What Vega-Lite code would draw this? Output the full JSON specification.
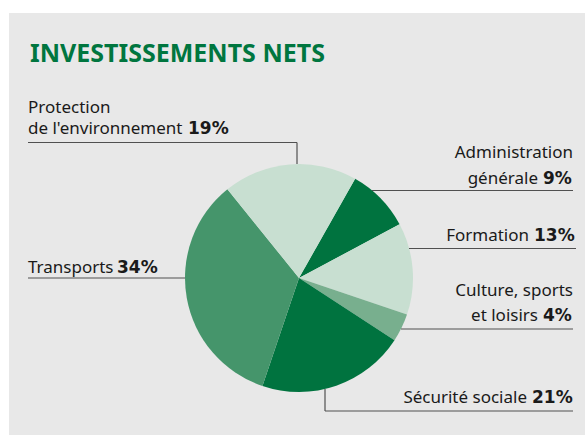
{
  "$schema": "https://vega.github.io/schema/vega-lite/v6.json",
  "width": 576,
  "height": 422,
  "autosize": {"type": "none"},
  "padding": {"left": 9, "top": 13, "right": 0, "bottom": 6},
  "background": "#ffffff",
  "config": {
    "view": {"fill": "#e8e8e8", "stroke": null},
    "axis": {"disable": true},
    "text": {"font": "Noto Sans", "fontSize": 17, "color": "#1a1a1a", "baseline": "alphabetic"},
    "rule": {"color": "#505050", "strokeWidth": 1.2}
  },
  "title": {
    "text": "INVESTISSEMENTS NETS",
    "anchor": "start",
    "frame": "group",
    "orient": "top",
    "offset": -74,
    "dx": 21,
    "baseline": "alphabetic",
    "font": "Noto Sans",
    "fontSize": 25,
    "fontWeight": "bold",
    "color": "#00763f"
  },
  "data": {
    "values": [
      {"category": "Administration générale", "line1": "Administration", "line2": "générale", "share": 0.09},
      {"category": "Formation", "line1": "Formation", "line2": "", "share": 0.13},
      {"category": "Culture, sports et loisirs", "line1": "Culture, sports", "line2": "et loisirs", "share": 0.04},
      {"category": "Sécurité sociale", "line1": "Sécurité sociale", "line2": "", "share": 0.21},
      {"category": "Transports", "line1": "Transports", "line2": "", "share": 0.34},
      {"category": "Protection de l'environnement", "line1": "Protection", "line2": "de l'environnement", "share": 0.19}
    ]
  },
  "layer": [
    {
      "transform": [{"window": [{"op": "row_number", "as": "idx"}]}],
      "mark": {"type": "arc", "outerRadius": 114},
      "encoding": {
        "x": {"datum": 0, "type": "quantitative", "scale": {"domain": [-290, 286], "nice": false, "zero": false}},
        "y": {"datum": 0, "type": "quantitative", "scale": {"domain": [-157, 265], "nice": false, "zero": false}},
        "theta": {"field": "share", "type": "quantitative", "stack": true, "scale": {"range": [0.515, 6.798]}},
        "order": {"field": "idx", "type": "quantitative"},
        "color": {
          "field": "category",
          "type": "nominal",
          "legend": null,
          "scale": {
            "domain": ["Administration générale", "Formation", "Culture, sports et loisirs", "Sécurité sociale", "Transports", "Protection de l'environnement"],
            "range": ["#00733f", "#c8dfd1", "#78af8e", "#00733f", "#45956b", "#c8dfd1"]
          }
        }
      }
    },
    {
      "transform": [
        {"filter": "datum.category === \"Protection de l'environnement\""},
        {"calculate": "datum.line1 + '\\n' + datum.line2", "as": "label"}
      ],
      "mark": {"type": "text", "align": "left", "lineBreak": "\n", "lineHeight": 21},
      "encoding": {"x": {"datum": -271}, "y": {"datum": 165}, "text": {"field": "label"}}
    },
    {
      "transform": [{"filter": "datum.category === \"Protection de l'environnement\""}],
      "mark": {"type": "text", "align": "left", "font": "DejaVu Sans", "fontWeight": "bold"},
      "encoding": {"x": {"datum": -111}, "y": {"datum": 144}, "text": {"field": "share", "format": ".0%"}}
    },
    {
      "transform": [{"filter": "datum.category === \"Protection de l'environnement\""}],
      "mark": "rule",
      "encoding": {"x": {"datum": -271}, "x2": {"datum": -2}, "y": {"datum": 135.5}}
    },
    {
      "transform": [{"filter": "datum.category === \"Protection de l'environnement\""}],
      "mark": "rule",
      "encoding": {"x": {"datum": -2}, "y": {"datum": 135.5}, "y2": {"datum": 114}}
    },
    {
      "transform": [{"filter": "datum.category === 'Transports'"}],
      "mark": {"type": "text", "align": "left"},
      "encoding": {"x": {"datum": -271}, "y": {"datum": 5}, "text": {"field": "line1"}}
    },
    {
      "transform": [{"filter": "datum.category === 'Transports'"}],
      "mark": {"type": "text", "align": "left", "font": "DejaVu Sans", "fontWeight": "bold"},
      "encoding": {"x": {"datum": -182}, "y": {"datum": 5}, "text": {"field": "share", "format": ".0%"}}
    },
    {
      "transform": [{"filter": "datum.category === 'Transports'"}],
      "mark": "rule",
      "encoding": {"x": {"datum": -271}, "x2": {"datum": -114}, "y": {"datum": 0}}
    },
    {
      "transform": [{"filter": "datum.category === 'Administration générale'"}],
      "mark": {"type": "text", "align": "right"},
      "encoding": {"x": {"datum": 274}, "y": {"datum": 120.5}, "text": {"field": "line1"}}
    },
    {
      "transform": [{"filter": "datum.category === 'Administration générale'"}],
      "mark": {"type": "text", "align": "right"},
      "encoding": {"x": {"datum": 239}, "y": {"datum": 94.5}, "text": {"field": "line2"}}
    },
    {
      "transform": [{"filter": "datum.category === 'Administration générale'"}],
      "mark": {"type": "text", "align": "left", "font": "DejaVu Sans", "fontWeight": "bold"},
      "encoding": {"x": {"datum": 244}, "y": {"datum": 94.5}, "text": {"field": "share", "format": ".0%"}}
    },
    {
      "transform": [{"filter": "datum.category === 'Administration générale'"}],
      "mark": "rule",
      "encoding": {"x": {"datum": 73}, "x2": {"datum": 274}, "y": {"datum": 87.5}}
    },
    {
      "transform": [{"filter": "datum.category === 'Formation'"}],
      "mark": {"type": "text", "align": "right"},
      "encoding": {"x": {"datum": 230}, "y": {"datum": 37}, "text": {"field": "line1"}}
    },
    {
      "transform": [{"filter": "datum.category === 'Formation'"}],
      "mark": {"type": "text", "align": "left", "font": "DejaVu Sans", "fontWeight": "bold"},
      "encoding": {"x": {"datum": 235}, "y": {"datum": 37}, "text": {"field": "share", "format": ".0%"}}
    },
    {
      "transform": [{"filter": "datum.category === 'Formation'"}],
      "mark": "rule",
      "encoding": {"x": {"datum": 110}, "x2": {"datum": 277}, "y": {"datum": 29.5}}
    },
    {
      "transform": [{"filter": "datum.category === 'Culture, sports et loisirs'"}],
      "mark": {"type": "text", "align": "right"},
      "encoding": {"x": {"datum": 274}, "y": {"datum": -18}, "text": {"field": "line1"}}
    },
    {
      "transform": [{"filter": "datum.category === 'Culture, sports et loisirs'"}],
      "mark": {"type": "text", "align": "right"},
      "encoding": {"x": {"datum": 239}, "y": {"datum": -43}, "text": {"field": "line2"}}
    },
    {
      "transform": [{"filter": "datum.category === 'Culture, sports et loisirs'"}],
      "mark": {"type": "text", "align": "left", "font": "DejaVu Sans", "fontWeight": "bold"},
      "encoding": {"x": {"datum": 244}, "y": {"datum": -43}, "text": {"field": "share", "format": ".0%"}}
    },
    {
      "transform": [{"filter": "datum.category === 'Culture, sports et loisirs'"}],
      "mark": "rule",
      "encoding": {"x": {"datum": 102}, "x2": {"datum": 274}, "y": {"datum": -51}}
    },
    {
      "transform": [{"filter": "datum.category === 'Sécurité sociale'"}],
      "mark": {"type": "text", "align": "right"},
      "encoding": {"x": {"datum": 228}, "y": {"datum": -125}, "text": {"field": "line1"}}
    },
    {
      "transform": [{"filter": "datum.category === 'Sécurité sociale'"}],
      "mark": {"type": "text", "align": "left", "font": "DejaVu Sans", "fontWeight": "bold"},
      "encoding": {"x": {"datum": 233}, "y": {"datum": -125}, "text": {"field": "share", "format": ".0%"}}
    },
    {
      "transform": [{"filter": "datum.category === 'Sécurité sociale'"}],
      "mark": "rule",
      "encoding": {"x": {"datum": 26}, "y": {"datum": -111}, "y2": {"datum": -133}}
    },
    {
      "transform": [{"filter": "datum.category === 'Sécurité sociale'"}],
      "mark": "rule",
      "encoding": {"x": {"datum": 26}, "x2": {"datum": 274}, "y": {"datum": -133}}
    }
  ]
}
